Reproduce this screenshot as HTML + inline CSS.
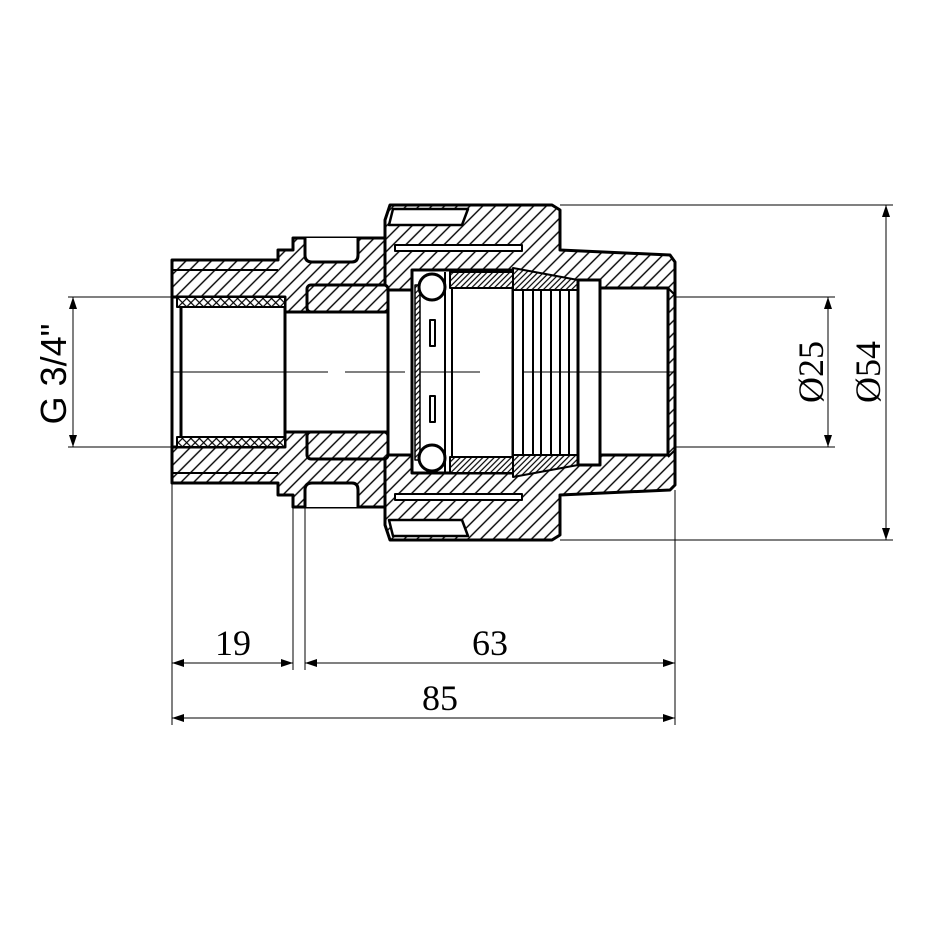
<!DOCTYPE html>
<html><head><meta charset="utf-8"><style>body{margin:0;background:#fff}svg{display:block}</style></head><body>
<svg width="930" height="930" viewBox="0 0 930 930" xmlns="http://www.w3.org/2000/svg">
<defs>
<pattern id="h" width="9" height="9" patternUnits="userSpaceOnUse" patternTransform="rotate(45)"><rect width="9" height="9" fill="#fff"/><line x1="1" y1="0" x2="1" y2="9" stroke="#000" stroke-width="1.4"/></pattern>
<pattern id="hf" width="4" height="4" patternUnits="userSpaceOnUse" patternTransform="rotate(45)"><rect width="4" height="4" fill="#fff"/><line x1="1" y1="0" x2="1" y2="4" stroke="#000" stroke-width="1.2"/></pattern>
<pattern id="x" width="6" height="6" patternUnits="userSpaceOnUse" patternTransform="rotate(45)"><rect width="6" height="6" fill="#fff"/><line x1="1" y1="0" x2="1" y2="6" stroke="#000" stroke-width="1.2"/><line x1="0" y1="1" x2="6" y2="1" stroke="#000" stroke-width="1.2"/></pattern>
<marker id="a" markerWidth="12" markerHeight="8" refX="12" refY="4" orient="auto" markerUnits="userSpaceOnUse"><path d="M0,0 L12,4 L0,8 Z" fill="#000"/></marker>
<marker id="b" markerWidth="12" markerHeight="8" refX="0" refY="4" orient="auto" markerUnits="userSpaceOnUse"><path d="M12,0 L0,4 L12,8 Z" fill="#000"/></marker>
</defs>
<g stroke="#000" stroke-width="3" stroke-linejoin="round">
<polygon points="172,260 278,260 278,250 293,250 293,238 385,238 385,507 293,507 293,495 278,495 278,483 172,483" fill="url(#h)"/>
<line x1="172" y1="270" x2="278" y2="270" stroke-width="2"/>
<line x1="172" y1="473" x2="278" y2="473" stroke-width="2"/>
<polygon points="390,205 552,205 560,210 560,250 670,255 675,262 675,485 670,490 560,495 560,535 552,540 390,540 385,525 385,220" fill="url(#h)"/>
<polygon points="393,209 468,209 462,225 389,225" fill="#fff" stroke-width="2.5"/>
<polygon points="393,536 468,536 462,520 389,520" fill="#fff" stroke-width="2.5"/>
<rect x="395" y="245" width="127" height="6" fill="#fff" stroke-width="2"/>
<rect x="395" y="494" width="127" height="6" fill="#fff" stroke-width="2"/>
<path d="M305,238 L305,255 Q305,262 312,262 L352,262 Q358,262 358,255 L358,238" fill="#fff"/>
<path d="M305,507 L305,490 Q305,483 312,483 L352,483 Q358,483 358,490 L358,507" fill="#fff"/>
<rect x="172" y="297" width="113" height="150" fill="#fff"/>
<rect x="177" y="297" width="108" height="10" fill="url(#x)" stroke-width="2"/>
<rect x="177" y="437" width="108" height="10" fill="url(#x)" stroke-width="2"/>
<line x1="181" y1="307" x2="181" y2="437" stroke-width="3"/>
<rect x="285" y="312" width="103" height="120" fill="#fff"/>
<rect x="307" y="285" width="81" height="27" fill="url(#h)" rx="4"/>
<rect x="307" y="432" width="81" height="27" fill="url(#h)" rx="4"/>
<rect x="388" y="290" width="24" height="165" fill="#fff"/>
<rect x="412" y="270" width="101" height="203" fill="#fff"/>
<rect x="450" y="272" width="63" height="16" fill="url(#hf)" stroke-width="2"/>
<rect x="450" y="457" width="63" height="16" fill="url(#hf)" stroke-width="2"/>
<rect x="415" y="285" width="5" height="175" fill="url(#hf)" stroke-width="1.5"/>
<line x1="445" y1="272" x2="445" y2="473" stroke-width="2"/>
<line x1="452" y1="288" x2="452" y2="457" stroke-width="2"/>
<circle cx="432" cy="287" r="13" fill="#fff"/>
<circle cx="432" cy="458" r="13" fill="#fff"/>
<rect x="430" y="320" width="5" height="26" fill="#fff" stroke-width="2"/>
<rect x="430" y="396" width="5" height="26" fill="#fff" stroke-width="2"/>
<polygon points="513,268 578,280 578,290 513,290" fill="url(#hf)" stroke-width="2"/>
<polygon points="513,477 578,465 578,455 513,455" fill="url(#hf)" stroke-width="2"/>
<rect x="513" y="290" width="65" height="165" fill="#fff" stroke-width="2"/>
<g stroke-width="2"><line x1="523" y1="290" x2="523" y2="455"/><line x1="533" y1="290" x2="533" y2="455"/><line x1="541" y1="290" x2="541" y2="455"/><line x1="551" y1="290" x2="551" y2="455"/><line x1="560" y1="290" x2="560" y2="455"/><line x1="569" y1="290" x2="569" y2="455"/></g>
<rect x="578" y="280" width="22" height="185" fill="#fff"/>
<rect x="600" y="288" width="68" height="167" fill="#fff"/>
<line x1="668" y1="288" x2="675" y2="295" stroke-width="2"/>
<line x1="668" y1="457" x2="675" y2="450" stroke-width="2"/>
</g>
<g stroke="#000" stroke-width="1">
<line x1="172" y1="372" x2="328" y2="372"/><line x1="345" y1="372" x2="405" y2="372"/><line x1="420" y1="372" x2="480" y2="372"/><line x1="522" y1="372" x2="675" y2="372"/>
<line x1="68" y1="297" x2="172" y2="297"/><line x1="68" y1="447" x2="172" y2="447"/>
<line x1="675" y1="297" x2="835" y2="297"/><line x1="675" y1="447" x2="835" y2="447"/>
<line x1="560" y1="205" x2="893" y2="205"/><line x1="560" y1="540" x2="893" y2="540"/>
<line x1="172" y1="483" x2="172" y2="725"/><line x1="293" y1="507" x2="293" y2="670"/><line x1="305" y1="507" x2="305" y2="670"/><line x1="675" y1="490" x2="675" y2="725"/>
<line x1="73" y1="297" x2="73" y2="447" marker-start="url(#b)" marker-end="url(#a)"/>
<line x1="828" y1="297" x2="828" y2="447" marker-start="url(#b)" marker-end="url(#a)"/>
<line x1="886" y1="205" x2="886" y2="540" marker-start="url(#b)" marker-end="url(#a)"/>
<line x1="172" y1="663" x2="293" y2="663" marker-start="url(#b)" marker-end="url(#a)"/>
<line x1="305" y1="663" x2="675" y2="663" marker-start="url(#b)" marker-end="url(#a)"/>
<line x1="172" y1="718" x2="675" y2="718" marker-start="url(#b)" marker-end="url(#a)"/>
</g>
<g font-family="Liberation Serif, serif" font-size="36" text-anchor="middle" fill="#000">
<text x="233" y="655">19</text>
<text x="490" y="655">63</text>
<text x="440" y="710">85</text>
<text transform="translate(823,372) rotate(-90)">Ø25</text>
<text transform="translate(880,372) rotate(-90)">Ø54</text>
</g>
<text transform="translate(66,374) rotate(-90)" font-family="Liberation Sans, sans-serif" font-size="36" text-anchor="middle">G 3/4"</text>
</svg>
</body></html>
